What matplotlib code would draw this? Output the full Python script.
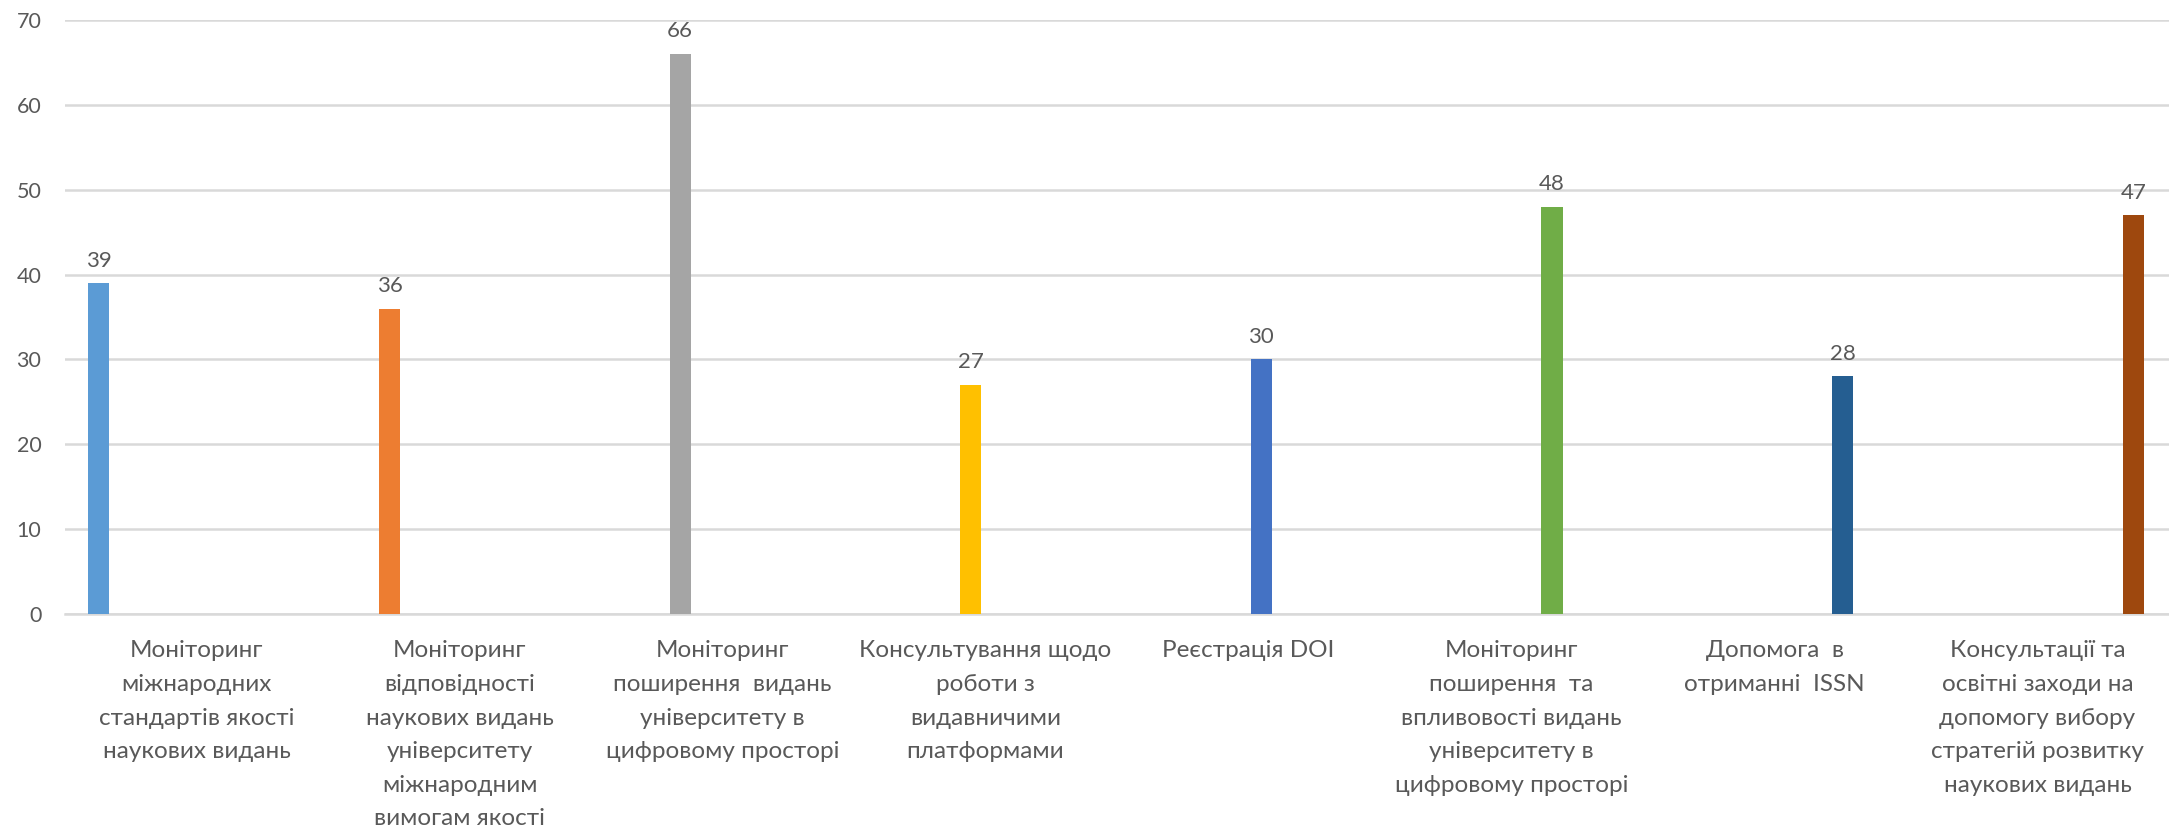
import numpy as np
import matplotlib
matplotlib.use("Agg")
import matplotlib.pyplot as plt

# categories (wrapped the way the original chart wraps them)
categories = [
    "Моніторинг\nміжнародних\nстандартів якості\nнаукових видань",
    "Моніторинг\nвідповідності\nнаукових видань\nуніверситету\nміжнародним\nвимогам якості",
    "Моніторинг\nпоширення  видань\nуніверситету в\nцифровому просторі",
    "Консультування щодо\nроботи з\nвидавничими\nплатформами",
    "Реєстрація DOI",
    "Моніторинг\nпоширення  та\nвпливовості видань\nуніверситету в\nцифровому просторі",
    "Допомога  в\nотриманні  ISSN",
    "Консультації та\nосвітні заходи на\nдопомогу вибору\nстратегій розвитку\nнаукових видань",
]
values = [39, 36, 66, 27, 30, 48, 28, 47]
colors = ["#5B9BD5", "#ED7D31", "#A5A5A5", "#FFC000",
          "#4472C4", "#70AD47", "#255E91", "#9E480E"]
yticks = [0, 10, 20, 30, 40, 50, 60, 70]

plt.rcParams["font.family"] = ["Lato", "DejaVu Sans"]
TXT = "#595959"
GRID = "#D9D9D9"

W, H = 2169, 835
fig = plt.figure(figsize=(W / 100, H / 100), dpi=100)
ax = fig.add_axes([65 / W, 221 / H, (W - 65) / W, (614 - 20) / H])

n = len(values)
# bars sit near the left of each slot, drifting right a little per slot
bar_x = 0.129 + np.arange(n) * 1.105
bars = ax.bar(bar_x, values, width=0.08, color=colors, zorder=3)
ax.bar_label(bars, labels=[str(v) for v in values], padding=9,
             fontsize=16, color=TXT)

ax.set_xlim(0, n)
ax.set_ylim(0, 70)
ax.set_xticks(np.arange(n) + 0.5)
ax.set_xticklabels(categories, fontsize=17.5, color=TXT, linespacing=1.74)
ax.set_yticks(yticks)
ax.set_yticklabels([str(t) for t in yticks], fontsize=15.5, color=TXT)
ax.tick_params(axis="x", length=0, pad=19)
ax.tick_params(axis="y", length=0, pad=17)

ax.grid(axis="y", color=GRID, lw=1.8, zorder=0)
ax.set_axisbelow(True)
for s in ("top", "right", "left"):
    ax.spines[s].set_visible(False)
ax.spines["bottom"].set_color(GRID)
ax.spines["bottom"].set_linewidth(1.8)

fig.savefig("out.png", dpi=100)
